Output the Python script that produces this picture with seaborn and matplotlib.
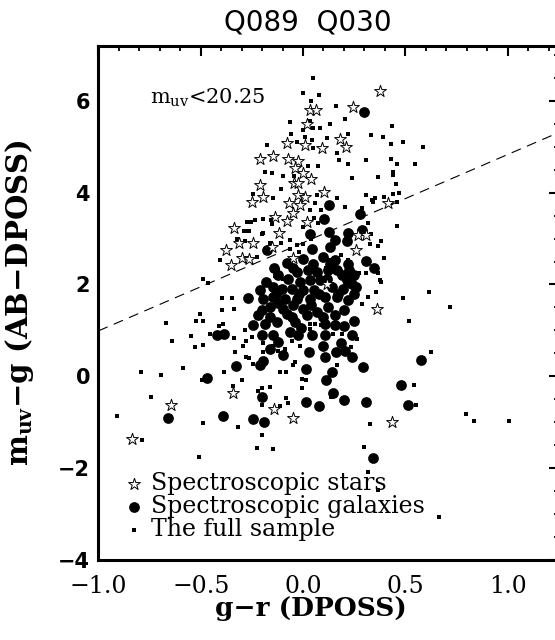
import seaborn as sns
import matplotlib.pyplot as plt
import pandas as pd
import numpy as np
from matplotlib.ticker import MultipleLocator

# g-r (DPOSS) and m_uv-g (AB-DPOSS)
star_x = [0.376, 0.417, 0.36, -0.647, -0.837, -0.341, -0.14, -0.047, 0.437, 0.034,
          0.064, 0.246, 0.021, 0.181, 0.21, -0.08, 0.01, 0.094, -0.21, -0.148,
          -0.075, -0.023, -0.039, -0.001, -0.044, -0.023, 0.039, -0.21, -0.194, -0.248,
          -0.023, 0.01, -0.068, -0.015, 0.104, -0.137, -0.08, -0.047, -0.336, -0.117,
          0.018, 0.27, 0.31, 0.258, -0.378, -0.313, -0.243, -0.297, -0.262, -0.353,
          -0.153, -0.05, 0.116]
star_y = [6.21, 3.77, 1.46, -0.62, -1.36, -0.36, -0.71, -0.91, -1.0, 5.8,
          5.8, 5.86, 5.49, 5.17, 5.0, 5.08, 5.03, 4.98, 4.73, 4.79,
          4.73, 4.68, 4.53, 4.42, 4.22, 4.2, 4.3, 4.17, 3.91, 3.79,
          3.95, 3.91, 3.77, 3.73, 4.02, 3.48, 3.39, 3.55, 3.22, 3.13,
          3.35, 3.07, 3.07, 2.76, 2.75, 2.91, 2.91, 2.57, 2.55, 2.43,
          2.81, 2.58, 2.02]

gal_x = [0.347, 0.577, 0.479, -0.658, -0.39, -0.243, -0.189, -0.199, 0.013, 0.08,
         0.111, 0.145, 0.2, 0.308, 0.341, 0.512, 0.298, 0.129, 0.103, 0.279,
         0.034, 0.129, 0.156, 0.218, 0.216, 0.287, 0.132, -0.177, 0.043, 0.0,
         0.099, 0.156, 0.308, -0.08, -0.14, -0.031, 0.026, 0.067, 0.121, 0.168,
         0.226, -0.072, -0.015, 0.034, 0.083, 0.119, 0.214, -0.148, -0.104, -0.055,
         0.0, 0.054, 0.14, 0.197, -0.21, -0.267, -0.194, -0.145, -0.088, -0.031,
         0.034, 0.108, 0.165, 0.221, -0.161, -0.096, -0.047, 0.0, 0.067, -0.218,
         -0.161, -0.055, 0.018, 0.156, -0.243, -0.186, -0.129, -0.039, 0.108, 0.156,
         -0.422, -0.385, -0.202, -0.145, -0.064, -0.023, 0.043, 0.108, 0.238, -0.121,
         -0.161, 0.099, 0.184, -0.099, 0.031, 0.108, 0.161, 0.205, 0.241, -0.329,
         -0.194, -0.21, 0.015, 0.292, 0.14, -0.468,
         -0.12, -0.05, 0.05, 0.13, 0.19, 0.24, -0.18, -0.13, -0.02, 0.08,
         0.17, 0.25, -0.12, 0.04, 0.12, 0.2, -0.08, 0.1, -0.2, 0.25,
         0.2, -0.01, 0.22, 0.25, 0.26]
gal_y = [2.36, 0.36, -0.19, -0.91, -0.86, -0.94, -0.99, -0.45, -0.55, -0.65,
         -0.09, -0.36, -0.51, -0.56, -1.78, -0.62, 5.75, 3.73, 3.42, 3.53,
         3.11, 3.15, 2.97, 3.13, 2.94, 3.18, 2.82, 2.75, 2.77, 2.55,
         2.6, 2.53, 2.51, 2.46, 2.35, 2.27, 2.31, 2.27, 2.31, 2.31,
         2.31, 2.13, 2.06, 2.09, 2.09, 2.13, 2.09, 1.95, 1.91, 1.91,
         1.87, 1.87, 1.95, 1.91, 1.87, 1.71, 1.69, 1.73, 1.69, 1.69,
         1.69, 1.73, 1.73, 1.66, 1.51, 1.47, 1.55, 1.47, 1.4, 1.33,
         1.29, 1.29, 1.33, 1.33, 1.11, 1.15, 1.18, 1.18, 1.15, 1.12,
         0.89, 0.93, 0.89, 0.89, 0.97, 0.89, 0.89, 0.89, 0.89, 0.75,
         0.6, 0.67, 0.73, 0.47, 0.53, 0.42, 0.53, 0.56, 0.42, 0.22,
         0.34, 0.24, 0.16, 0.2, 0.09, -0.03,
         2.2, 2.35, 2.45, 2.45, 2.2, 2.0, 2.05, 1.8, 1.8, 1.8,
         1.8, 1.8, 1.6, 1.55, 1.5, 1.45, 1.35, 1.3, 1.45, 1.2,
         1.1, 1.05, 2.45, 2.2, 1.95]

full_x = [0.437, 0.331, 0.393, 0.49, 0.429, 0.588, 0.43, 0.461, 0.549, 0.44,
          0.44, 0.368, 0.453, 0.339, 0.397, 0.44, 0.47, 0.43, 0.461, 0.461,
          0.332, 0.38, 0.368, 0.397, 0.368, 0.38, 0.358, 0.617, 0.49, 0.72,
          0.52, 0.627, 0.544, -0.744, -0.908, -0.788, -0.487, -0.507, -0.344, -0.3,
          -0.316, -0.218, -0.199, -0.199, -0.199, -0.226, -0.145, -0.112, -0.083, -0.075,
          -0.006, 0.135, 0.327, 0.3, 0.319, 0.365, 0.551, 0.666, 0.797, 0.837,
          1.008, 0.05, 0.0, 0.08, 0.039, 0.161, 0.205, -0.064, 0.034, 0.047,
          0.0, 0.083, 0.132, -0.059, 0.01, 0.043, 0.116, 0.221, -0.031, 0.047,
          -0.174, 0.165, -0.186, -0.153, 0.026, 0.072, -0.044, -0.096, 0.177, 0.221,
          0.308, 0.238, -0.243, -0.109, -0.148, 0.067, 0.034, 0.165, 0.205, 0.308,
          0.352, -0.275, -0.235, -0.197, -0.283, -0.197, -0.064, -0.031, -0.487, -0.463,
          -0.406, -0.398, -0.349, -0.398, -0.337, -0.503, -0.523, -0.487, -0.67, -0.411,
          -0.392, -0.547, -0.455, -0.487, -0.528, -0.642, -0.694, -0.793, -0.585, -0.495,
          -0.385, -0.33, -0.295, -0.28, -0.262, -0.245, -0.279, -0.251, -0.336, -0.282,
          -0.24, -0.197, -0.148, -0.194, -0.121, -0.088, -0.112, -0.05, 0.015, -0.161,
          0.034, 0.034, 0.059, 0.088, 0.124, 0.148, 0.189, 0.168, 0.233, 0.262,
          0.189, 0.287, 0.262, 0.319, 0.221, 0.276, 0.308, 0.376, 0.327, 0.319,
          0.287, 0.344, 0.088, 0.059, 0.054, 0.075, 0.0, 0.038, 0.0, -0.02,
          -0.064, -0.108, -0.153, -0.158, -0.254, -0.265, -0.289, -0.324, -0.283, -0.199,
          -0.161, -0.226, -0.121, -0.099, -0.137, 0.184, 0.132, 0.111, -0.055, -0.015,
          -0.039, -0.006, -0.083]
full_y = [5.46, 5.26, 5.22, 5.11, 5.05, 5.0, 4.73, 4.63, 4.63, 4.44,
          4.38, 4.33, 4.18, 3.85, 3.91, 3.96, 4.0, 3.77, 3.79, 3.28,
          3.11, 2.95, 2.84, 2.58, 2.26, 2.06, 1.84, 1.84, 1.71, 1.51,
          1.2, 0.53, -0.19, -0.45, -0.87, -1.39, -1.02, -1.76, -0.21, -0.09,
          -1.11, -0.31, -0.26, -0.62, -1.28, -1.57, -1.58, -0.65, -0.48, -0.58,
          -0.26, -0.45, -1.04, -1.55, -2.08, -2.48, -0.62, -3.06, -0.82, -0.98,
          -0.98, 6.5, 6.17, 6.13, 5.99, 5.88, 5.61, 5.53, 5.55, 5.4,
          5.37, 5.4, 5.49, 5.27, 5.22, 5.15, 5.2, 5.27, 5.11, 4.98,
          5.03, 4.86, 4.46, 4.42, 4.57, 4.57, 4.37, 4.37, 4.71, 4.62,
          4.71, 4.31, 3.96, 4.08, 3.88, 3.95, 3.62, 3.88, 3.69, 3.95,
          3.88, 3.37, 3.4, 3.42, 3.16, 3.13, 2.97, 2.86, 2.11, 2.04,
          2.53, 1.71, 1.71, 1.44, 1.47, 1.36, 1.2, 1.2, 1.16, 1.1,
          1.15, 0.88, 0.93, 0.69, 0.64, 0.78, 0.03, 0.09, 0.18, -0.09,
          0.09, 0.53, 0.67, 0.42, 0.4, 0.27, 0.76, 0.86, 0.83, 1.0,
          1.09, 0.73, 0.67, 0.53, 0.56, 0.6, 0.09, 0.24, -0.09, -0.24,
          1.15, 1.04, 1.15, 1.11, 1.13, 0.93, 0.93, 0.24, 0.64, 0.82,
          1.4, 1.58, 1.76, 1.73, 2.53, 2.24, 2.24, 2.09, 2.89, 3.34,
          3.67, 3.8, 3.62, 3.77, 3.44, 3.33, 3.26, 2.99, 2.89, 2.71,
          2.77, 2.91, 3.31, 3.4, 3.37, 3.17, 3.17, 2.99, 2.94, 3.11,
          2.91, 2.6, 2.31, 2.13, 2.19, 2.64, 2.53, 2.36, 0.78, 0.67,
          0.32, -0.05, 0.09]

# star/galaxy dividing line
cut_slope = 1.92
cut_intercept = 2.91

stars = pd.DataFrame({"gr": star_x, "uvg": star_y})
gals = pd.DataFrame({"gr": gal_x, "uvg": gal_y})
full = pd.DataFrame({"gr": full_x, "uvg": full_y})

sns.set_style("white")
plt.rcParams['font.family'] = ['DejaVu Serif']
plt.rcParams['mathtext.fontset'] = 'dejavuserif'
for k in ['text.color', 'axes.labelcolor', 'xtick.color', 'ytick.color']:
    plt.rcParams[k] = 'black'

fig = plt.figure(figsize=(5.55, 6.4), dpi=100)
ax = fig.add_axes([0.1773, 0.125, 0.8295, 0.8036])

sns.scatterplot(data=full, x="gr", y="uvg", marker="s", s=6, color="black",
                linewidth=0, ax=ax, label="The full sample", zorder=2)
sns.scatterplot(data=gals, x="gr", y="uvg", marker="o", s=60, color="black",
                linewidth=0, ax=ax, label="Spectroscopic galaxies", zorder=3)
sns.scatterplot(data=stars, x="gr", y="uvg", marker="*", s=80, facecolor="white",
                edgecolor="black", linewidth=0.7, ax=ax, label="Spectroscopic stars", zorder=4)

ax.axline((0, cut_intercept), slope=cut_slope, color="black", lw=0.8,
          dashes=(9, 6), zorder=1)

ax.set_xlim(-1.0, 1.25)
ax.set_ylim(-4.0, 7.2)
ax.xaxis.set_major_locator(MultipleLocator(0.5))
ax.xaxis.set_minor_locator(MultipleLocator(0.1))
ax.yaxis.set_major_locator(MultipleLocator(2))
ax.yaxis.set_minor_locator(MultipleLocator(0.5))
ax.tick_params(which="both", direction="in", top=True, right=True, color="black")
ax.tick_params(which="major", length=7, width=1.5)
ax.tick_params(which="minor", length=3.5, width=1.3)
ax.tick_params(axis="x", which="major", labelsize=17, pad=11)
ax.tick_params(axis="y", which="major", pad=6)
for lab in ax.get_yticklabels():
    lab.set_family("DejaVu Sans")
    lab.set_fontweight("bold")
    lab.set_fontsize(15)
for sp in ax.spines.values():
    sp.set_linewidth(2.2)
    sp.set_color("black")

ax.set_xlabel("g\u2212r (DPOSS)", fontsize=19, fontweight="bold")
ax.xaxis.set_label_coords(0.462, -0.07)
ax.set_ylabel("m$_{\\mathbf{uv}}$\u2212g (AB\u2212DPOSS)", fontsize=21, fontweight="bold")
ax.yaxis.set_label_coords(-0.135, 0.5)

fig.text(308 / 555, 1 - 22 / 640, "Q089  Q030", ha="center", va="center",
         fontsize=20, family="DejaVu Sans")
ax.text(0.112, 0.898, r"m$_{\rm uv}$<20.25", transform=ax.transAxes,
        ha="left", va="center", fontsize=15)

h, l = ax.get_legend_handles_labels()
ax.legend(h[::-1], l[::-1], loc="lower left", bbox_to_anchor=(0.057, 0.036),
          frameon=False, fontsize=17, labelspacing=0.0, handlelength=0.8,
          handletextpad=0.33, borderpad=0, borderaxespad=0)

fig.savefig("out.png", dpi=100)
